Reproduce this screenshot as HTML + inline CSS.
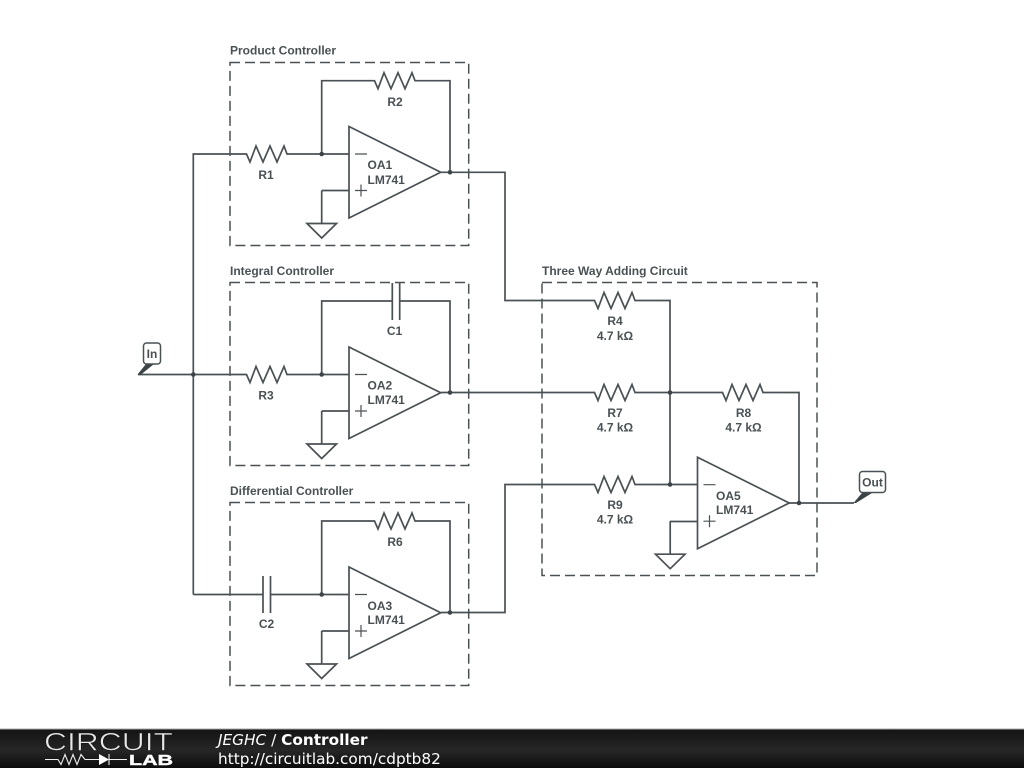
<!DOCTYPE html>
<html><head><meta charset="utf-8"><title>Controller</title>
<style>
html,body{margin:0;padding:0;background:#fff;width:1024px;height:768px;overflow:hidden}
svg{display:block}
.t{font:bold 12px "Liberation Sans",Arial,sans-serif;fill:#4a5154}
.m{text-anchor:middle}
</style></head><body>
<svg width="1024" height="768" viewBox="0 0 1024 768" xmlns="http://www.w3.org/2000/svg">
<defs>
<linearGradient id="g" x1="0" y1="0" x2="0" y2="1"><stop offset="0" stop-color="#141414"/><stop offset=".55" stop-color="#262626"/><stop offset="1" stop-color="#0c0c0c"/></linearGradient>
<g id="oa" fill="none" stroke="#4a5154" stroke-width="1.700">
<path d="M349 126.500V218L440.700 172.300Z" fill="#fff"/>
<path d="M355 154H367M355 190.500H367M361 184.500V196.500" stroke-width="1.200"/>
</g>
<path id="rz" d="M0 0H0.500L4 8L10 -8L17 8L24 -8L31 8L38 -8L41 0H42" fill="none" stroke="#4a5154" stroke-width="1.700"/>
<path id="gnd" d="M321.700 190.500V223.500M307 223.500H336.500L321.700 238Z" fill="none" stroke="#4a5154" stroke-width="1.700"/>
</defs>
<rect width="1024" height="768" fill="#fff"/>

<!-- dashed boxes -->
<g fill="none" stroke="#4a5154" stroke-width="1.500" stroke-dasharray="10 5">
<rect x="230" y="62.500" width="238.700" height="183"/>
<rect x="230" y="282.500" width="238.700" height="183"/>
<rect x="230" y="502.500" width="238.700" height="183"/>
<rect x="542" y="282.500" width="275" height="293"/>
</g>

<!-- wires -->
<g fill="none" stroke="#4a5154" stroke-width="1.700">
<path d="M193.300 594.500V154H246M288 154H349M321.700 154V80.700H374M416 80.700H450V172.300"/>
<path d="M441 172.300H505V300.500H594M636 300.500H670V484.500"/>
<path d="M138 374.500H246M288 374.500H349M321.700 374.500V301H392M400 301H450V392.500"/>
<path d="M441 392.500H594M636 392.500H722M764 392.500H799V503"/>
<path d="M193.300 594.500H263M271 594.500H349M321.700 594.500V521H374M416 521H450V612.500"/>
<path d="M441 612.500H505V484.500H594M636 484.500H697.500"/>
<path d="M349 190.500H321.700M349 411H321.700M349 631H321.700"/>
<path d="M697.500 521.500H670"/>
<path d="M789 503H854"/>
</g>

<!-- resistors -->
<use href="#rz" x="246" y="154"/>
<use href="#rz" x="374" y="80.700"/>
<use href="#rz" x="246" y="374.500"/>
<use href="#rz" x="374" y="521"/>
<use href="#rz" x="594" y="300.500"/>
<use href="#rz" x="594" y="392.500"/>
<use href="#rz" x="594" y="484.500"/>
<use href="#rz" x="722" y="392.500"/>

<!-- capacitors -->
<g stroke="#4a5154" stroke-width="1.700" fill="none">
<path d="M392.300 283V320M399.700 283V320"/>
<path d="M263 576V613M270.500 576V613"/>
</g>

<!-- op amps -->
<use href="#oa"/>
<use href="#oa" y="220.500"/>
<use href="#oa" y="440.500"/>
<use href="#oa" x="348.500" y="330.700"/>

<!-- grounds -->
<use href="#gnd"/>
<use href="#gnd" y="220.500"/>
<use href="#gnd" y="440.500"/>
<use href="#gnd" x="348.500" y="330.700"/>

<!-- junctions -->
<g fill="#3c4346">
<circle cx="321.700" cy="154" r="2.300"/><circle cx="450" cy="172.300" r="2.300"/>
<circle cx="193.300" cy="374.500" r="2.300"/><circle cx="321.700" cy="374.500" r="2.300"/><circle cx="450" cy="392.500" r="2.300"/>
<circle cx="321.700" cy="594.500" r="2.300"/><circle cx="450" cy="612.500" r="2.300"/>
<circle cx="670" cy="392.500" r="2.300"/><circle cx="670" cy="484.500" r="2.300"/><circle cx="799" cy="503" r="2.300"/>
</g>

<!-- ports -->
<path d="M137.500 374.500L146 364H154L141 374.500Z" fill="#3c4346"/>
<rect x="143.500" y="343" width="17" height="21" rx="3" fill="#fff" stroke="#4a5154" stroke-width="1.500"/>
<path d="M853.500 503L862 493H872L856 503Z" fill="#3c4346"/>
<rect x="859.500" y="471.500" width="26" height="21" rx="3" fill="#fff" stroke="#4a5154" stroke-width="1.500"/>

<!-- labels -->
<g class="t">
<text x="230" y="54.500">Product Controller</text>
<text x="230" y="275">Integral Controller</text>
<text x="230" y="495">Differential Controller</text>
<text x="542" y="275">Three Way Adding Circuit</text>
<text class="m" x="266" y="179">R1</text>
<text class="m" x="395" y="106">R2</text>
<text class="m" x="266" y="399.500">R3</text>
<text class="m" x="394.500" y="335">C1</text>
<text class="m" x="266.500" y="628">C2</text>
<text class="m" x="395" y="546">R6</text>
<text class="m" x="615" y="325">R4</text><text class="m" x="615" y="340">4.7 kΩ</text>
<text class="m" x="615" y="417">R7</text><text class="m" x="615" y="431.500">4.7 kΩ</text>
<text class="m" x="615" y="509">R9</text><text class="m" x="615" y="523.500">4.7 kΩ</text>
<text class="m" x="743.500" y="417">R8</text><text class="m" x="743.500" y="431.500">4.7 kΩ</text>
<text x="367.500" y="169">OA1</text><text x="367.500" y="184">LM741</text>
<text x="367.500" y="389.500">OA2</text><text x="367.500" y="404">LM741</text>
<text x="367.500" y="610">OA3</text><text x="367.500" y="624">LM741</text>
<text x="716" y="500">OA5</text><text x="716" y="514">LM741</text>
<text class="m" x="152" y="358">In</text>
<text class="m" x="872.500" y="486.500">Out</text>
</g>

<!-- footer -->
<rect x="0" y="729" width="1024" height="39" fill="url(#g)"/>
<rect x="0" y="728.500" width="1024" height="1" fill="#aaa"/>
<text x="44" y="750.500" textLength="129" lengthAdjust="spacingAndGlyphs" style="font:25px 'Liberation Sans',sans-serif" fill="#e8e8e8" stroke="#161616" stroke-width=".6">CIRCUIT</text>
<path d="M45 759.500H58L61 764.500L65 754.500L69 764.500L73 754.500L77 764.500L81 754.500L85 759.500H99M109 754V765M109 759.500H127" fill="none" stroke="#eee" stroke-width="1.100"/>
<path d="M99 754V765L109 759.500Z" fill="#fff"/>
<text x="129" y="765" textLength="44" lengthAdjust="spacingAndGlyphs" style="font:bold 14.500px 'Liberation Sans',sans-serif" fill="#fff" stroke="#fff" stroke-width=".4">LAB</text>
<text x="218" y="745" style="font:15.300px 'DejaVu Sans',sans-serif" fill="#fff"><tspan font-style="italic">JEGHC</tspan> / <tspan font-weight="bold">Controller</tspan></text>
<text x="218" y="764" style="font:15.300px 'DejaVu Sans',sans-serif" fill="#fff">http://circuitlab.com/cdptb82</text>
</svg>
</body></html>
